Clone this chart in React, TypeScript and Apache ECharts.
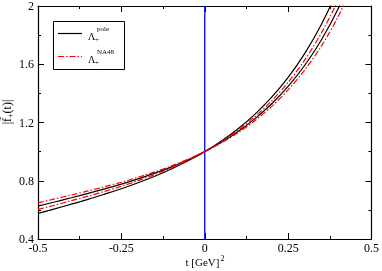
import React, { useEffect, useRef } from "react";
import * as echarts from "echarts";

const tValues = [-0.5, -0.45, -0.4, -0.35, -0.3, -0.25, -0.2, -0.15, -0.1, -0.05, 0, 0.05, 0.1, 0.15, 0.2, 0.25, 0.3, 0.35, 0.4, 0.45];
const poleLower = [0.576, 0.607, 0.639, 0.672, 0.708, 0.745, 0.786, 0.831, 0.881, 0.937, 1, 1.073, 1.157, 1.256, 1.372, 1.51, 1.675, 1.875, 2.118, 2.416];
const poleUpper = [0.626, 0.654, 0.683, 0.713, 0.744, 0.777, 0.813, 0.852, 0.895, 0.944, 1, 1.064, 1.138, 1.225, 1.327, 1.448, 1.593, 1.768, 1.981, 2.241];
const na48Lower = [0.603, 0.632, 0.663, 0.694, 0.727, 0.762, 0.801, 0.842, 0.889, 0.941, 1, 1.068, 1.147, 1.239, 1.347, 1.476, 1.63, 1.816, 2.042, 2.318];
const na48Upper = [0.648, 0.675, 0.702, 0.73, 0.759, 0.79, 0.824, 0.861, 0.902, 0.948, 1, 1.06, 1.13, 1.212, 1.309, 1.424, 1.561, 1.726, 1.927, 2.173];
const blueLine = [[0, 0.4], [0, 2]];

const SERIF = "'Liberation Serif', 'DejaVu Serif', serif";

export default function App() {
  const ref = useRef<HTMLDivElement>(null);
  useEffect(() => {
    if (!ref.current) return;
    const chart = echarts.init(ref.current, undefined, { renderer: "svg" });
    const pairs = (ys: number[]) => tValues.map((t, i) => [t, ys[i]]);
    const axisCommon = {
      axisLine: { show: true, onZero: false, lineStyle: { color: "#000", width: 1.2 } },
      axisTick: { show: true, inside: true, length: 6, lineStyle: { color: "#000", width: 1 } },
      minorTick: { show: true, splitNumber: 2, length: 3, lineStyle: { color: "#000", width: 1 } },
      splitLine: { show: false },
      minorSplitLine: { show: false },
    };
    const lineSeries = (data: number[], color: string, dashed: boolean) => ({
      type: "line",
      data: pairs(data),
      showSymbol: false,
      smooth: 0.3,
      clip: true,
      lineStyle: {
        color,
        width: 1.2,
        type: dashed ? [6, 2, 1.5, 2] : "solid",
      },
      z: dashed ? 4 : 3,
    });
    chart.setOption({
      animation: false,
      grid: { left: 38, right: 9, top: 5, bottom: 32 },
      xAxis: [
        {
          type: "value",
          min: -0.5,
          max: 0.5,
          interval: 0.25,
          position: "bottom",
          ...axisCommon,
          axisLabel: { color: "#000", fontFamily: SERIF, fontSize: 12, margin: 3 },
        },
        {
          type: "value",
          min: -0.5,
          max: 0.5,
          interval: 0.25,
          position: "top",
          ...axisCommon,
          axisLabel: { show: false },
        },
      ],
      yAxis: [
        {
          type: "value",
          min: 0.4,
          max: 2,
          interval: 0.4,
          position: "left",
          ...axisCommon,
          axisLabel: { color: "#000", fontFamily: SERIF, fontSize: 12, margin: 4 },
        },
        {
          type: "value",
          min: 0.4,
          max: 2,
          interval: 0.4,
          position: "right",
          ...axisCommon,
          axisLabel: { show: false },
        },
      ],
      series: [
        lineSeries(poleLower, "#000000", false),
        lineSeries(poleUpper, "#000000", false),
        lineSeries(na48Lower, "#ff0000", true),
        lineSeries(na48Upper, "#ff0000", true),
        {
          type: "line",
          data: blueLine,
          showSymbol: false,
          clip: true,
          lineStyle: { color: "#0000ff", width: 1.3 },
          z: 2,
        },
      ],
      graphic: [
        {
          type: "text",
          x: 205,
          y: 262,
          style: {
            text: "{a|t [GeV]}{s|2}",
            align: "center",
            verticalAlign: "middle",
            rich: {
              a: { fontFamily: SERIF, fontSize: 11, fill: "#000" },
              s: { fontFamily: SERIF, fontSize: 8, fill: "#000", padding: [0, 0, 8, 1] },
            },
          },
        },
        {
          type: "text",
          x: 7,
          y: 112,
          rotation: Math.PI / 2,
          style: {
            text: "{a||f\u0303}{s|+}{a|(t)|}",
            align: "center",
            verticalAlign: "middle",
            rich: {
              a: { fontFamily: SERIF, fontSize: 12, fill: "#000" },
              s: { fontFamily: SERIF, fontSize: 8, fill: "#000", padding: [7, 0, 0, 0] },
            },
          },
        },
        {
          type: "rect",
          shape: { x: 53.5, y: 21.5, width: 71, height: 48 },
          style: { fill: "#fff", stroke: "#000", lineWidth: 1 },
          z: 10,
        },
        {
          type: "line",
          shape: { x1: 58, y1: 33.5, x2: 82, y2: 33.5 },
          style: { stroke: "#000", lineWidth: 1.2 },
          z: 11,
        },
        {
          type: "line",
          shape: { x1: 58, y1: 56.5, x2: 82, y2: 56.5 },
          style: { stroke: "#ff0000", lineWidth: 1.2, lineDash: [6, 2, 1.5, 2] },
          z: 11,
        },
        { type: "text", x: 88, y: 36, z: 11, style: { text: "\u039b", fontFamily: SERIF, fontSize: 10, fill: "#000", verticalAlign: "middle" } },
        { type: "text", x: 95, y: 40, z: 11, style: { text: "+", fontFamily: SERIF, fontSize: 7, fill: "#000", verticalAlign: "middle" } },
        { type: "text", x: 97, y: 29, z: 11, style: { text: "pole", fontFamily: SERIF, fontSize: 7, fill: "#000", verticalAlign: "middle" } },
        { type: "text", x: 88, y: 59, z: 11, style: { text: "\u039b", fontFamily: SERIF, fontSize: 10, fill: "#000", verticalAlign: "middle" } },
        { type: "text", x: 95, y: 63, z: 11, style: { text: "+", fontFamily: SERIF, fontSize: 7, fill: "#000", verticalAlign: "middle" } },
        { type: "text", x: 97, y: 52, z: 11, style: { text: "NA48", fontFamily: SERIF, fontSize: 7, fill: "#000", verticalAlign: "middle" } },
      ],
    });
    return () => chart.dispose();
  }, []);
  return <div ref={ref} style={{ position: "fixed", left: 0, top: 0, width: 382, height: 271 }} />;
}
